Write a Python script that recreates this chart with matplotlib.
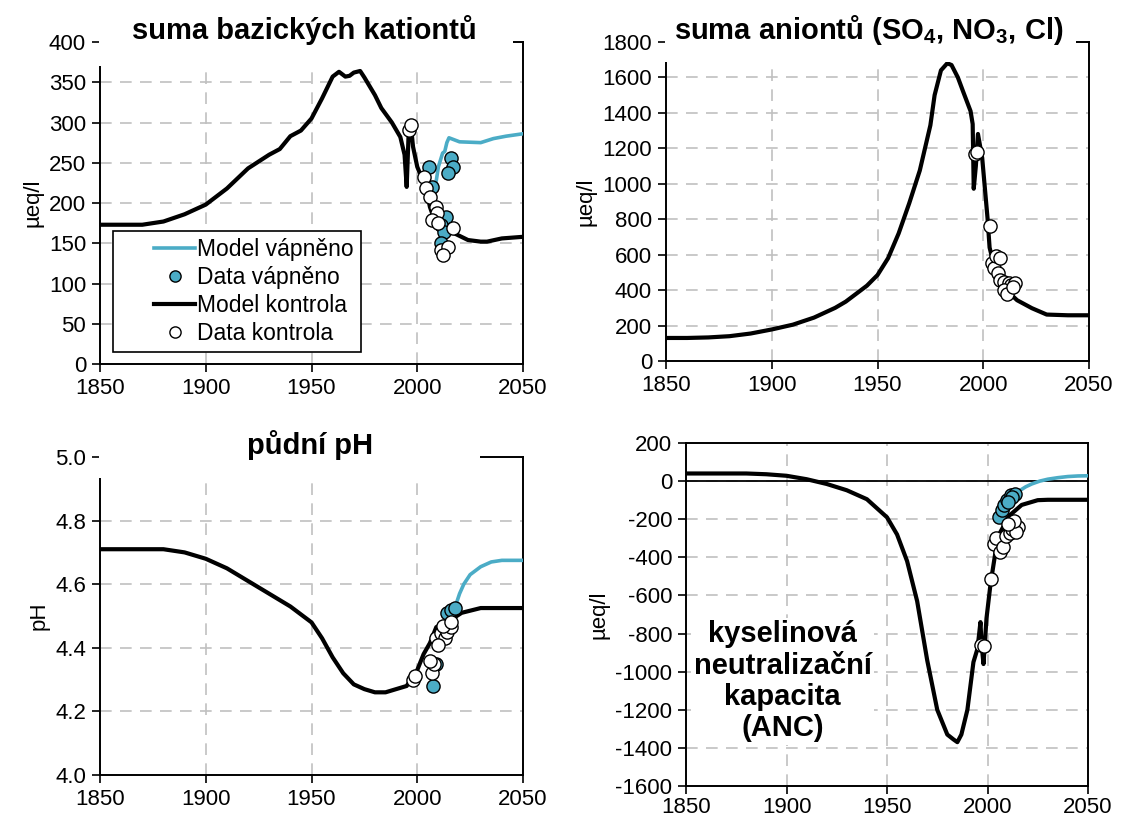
import matplotlib
matplotlib.use("Agg")
import matplotlib.pyplot as plt
from matplotlib.patches import Rectangle
from matplotlib.lines import Line2D
from matplotlib.legend_handler import HandlerLine2D
import numpy as np

plt.rcParams['font.family'] = ['Liberation Sans', 'DejaVu Sans']
plt.rcParams['mathtext.fontset'] = 'custom'
plt.rcParams['mathtext.rm'] = 'Liberation Sans'
plt.rcParams['mathtext.bf'] = 'Liberation Sans:bold'

W, H = 1121, 817
CYAN = "#4bacc6"
GRID = "#c0c0c0"

# --- suma bazických kationtů (µeq/l) ---
bc_ctrl_yr = [1850, 1860, 1870, 1875, 1880, 1890, 1900, 1910, 1920, 1930, 1935, 1940, 1945, 1950,
              1955, 1960, 1963, 1966, 1968, 1970, 1973, 1975, 1980, 1983, 1988, 1992, 1994, 1995,
              1996, 1997, 1998, 2000, 2002, 2004, 2006, 2008, 2010, 2013, 2017, 2024, 2030, 2033,
              2040, 2050]
bc_ctrl = [173, 173, 173, 175, 177, 186, 198, 218, 243, 260, 267, 283, 290, 305,
           330, 357, 363, 357, 358, 362, 364, 356, 334, 318, 300, 282, 260, 220,
           292, 296, 270, 245, 232, 220, 195, 180, 170, 166, 163, 154, 152, 152,
           156, 158]
bc_lime_yr = [2007, 2009, 2010, 2012, 2013, 2014, 2015, 2017, 2020, 2030, 2036, 2042, 2050]
bc_lime = [205, 228, 245, 262, 264, 275, 281, 279, 276, 275, 280, 283, 286]
bc_dlime_yr = [2005.5, 2007, 2013.5, 2011, 2012.5, 2016, 2017, 2014.5, 2011]
bc_dlime = [245, 220, 183, 173, 164, 256, 245, 237, 150]
bc_dctrl_yr = [1996, 1997, 2003, 2004, 2006, 2009, 2009.5, 2007, 2010, 2017, 2011, 2014.5, 2012]
bc_dctrl = [291, 297, 232, 219, 208, 195, 188, 179, 175, 169, 142, 145, 135]

# --- suma aniontů (µeq/l) ---
an_ctrl_yr = [1850, 1860, 1870, 1880, 1890, 1900, 1910, 1920, 1930, 1935, 1940, 1945, 1950, 1955,
              1960, 1965, 1970, 1975, 1977, 1980, 1983, 1985, 1988, 1990.5, 1994, 1995, 1995.5,
              1996.5, 1997.5, 1999.5, 2002, 2003, 2006.5, 2011, 2016, 2023, 2030, 2040, 2050]
an_ctrl = [130, 130, 133, 140, 155, 178, 205, 245, 300, 335, 380, 425, 485, 580,
           720, 890, 1075, 1330, 1500, 1640, 1680, 1670, 1600, 1520, 1410, 1337, 972,
           1100, 1281, 1146, 809, 640, 472, 399, 343, 298, 262, 258, 258]
an_dctrl_yr = [1996, 1997, 2003, 2004, 2005, 2006, 2008, 2007, 2008, 2010, 2012, 2013, 2015,
               2010, 2011, 2014]
an_dctrl = [1168, 1178, 764, 555, 522, 590, 584, 494, 455, 444, 438, 427, 438, 399, 378, 415]

# --- půdní pH ---
ph_ctrl_yr = [1850, 1870, 1880, 1890, 1900, 1910, 1920, 1930, 1940, 1950, 1955, 1960, 1965, 1970,
              1975, 1980, 1985, 1990, 1995, 1998, 2000, 2003, 2006, 2009, 2014, 2021, 2030, 2035,
              2050]
ph_ctrl = [4.71, 4.71, 4.71, 4.70, 4.68, 4.65, 4.61, 4.57, 4.53, 4.48, 4.43, 4.37, 4.32, 4.285,
           4.27, 4.26, 4.26, 4.27, 4.28, 4.31, 4.33, 4.38, 4.415, 4.465, 4.48, 4.51, 4.525, 4.525,
           4.525]
ph_lime_yr = [2013, 2016, 2018, 2020, 2022, 2025, 2030, 2035, 2040, 2050]
ph_lime = [4.48, 4.50, 4.53, 4.57, 4.60, 4.63, 4.655, 4.67, 4.675, 4.675]
ph_dlime_yr = [2007.5, 2009, 2014, 2016, 2018]
ph_dlime = [4.28, 4.35, 4.51, 4.52, 4.525]
ph_dctrl_yr = [1998, 1999, 2007, 2008, 2006, 2009, 2011, 2013, 2014, 2016, 2012, 2010, 2016]
ph_dctrl = [4.30, 4.31, 4.32, 4.35, 4.36, 4.43, 4.445, 4.43, 4.45, 4.465, 4.47, 4.41, 4.48]

# --- ANC (µeq/l) ---
anc_ctrl_yr = [1850, 1870, 1880, 1890, 1900, 1910, 1920, 1930, 1940, 1950, 1955, 1960, 1965, 1970,
               1975, 1980, 1983, 1985, 1987, 1990, 1993, 1995, 1996.5, 1997, 1998, 1999.5, 2001.5,
               2004, 2006, 2011, 2017, 2025, 2030, 2050]
anc_ctrl = [40, 40, 40, 36, 28, 10, -15, -48, -95, -190, -280, -420, -630, -940,
            -1200, -1330, -1355, -1370, -1330, -1200, -950, -880, -740, -850, -960, -720, -540,
            -370, -275, -180, -125, -100, -98, -98]
anc_lime_yr = [2012, 2014, 2016, 2019, 2022, 2026, 2030, 2035, 2040, 2045, 2050]
anc_lime = [-75, -65, -50, -30, -15, 0, 10, 18, 24, 27, 28]
anc_dlime_yr = [2005.5, 2007, 2008, 2009.5, 2011.5, 2013.5, 2012, 2010]
anc_dlime = [-190, -150, -125, -98, -73, -67, -85, -110]
anc_dctrl_yr = [2001.5, 1997, 1998.5, 2003, 2004, 2006, 2007.5, 2009, 2011, 2012, 2015, 2014,
                2013, 2010]
anc_dctrl = [-515, -860, -865, -330, -300, -370, -345, -290, -270, -250, -240, -265, -210, -225]


def px_axes(fig, x0, x1, y0, y1):
    # pixel box (top-left origin) -> figure fraction axes
    return fig.add_axes([x0 / W, 1 - y1 / H, (x1 - x0) / W, (y1 - y0) / H])


def style(ax, ylim, yticks, yfmt):
    ax.set_xlim(1850, 2050)
    ax.set_xticks([1850, 1900, 1950, 2000, 2050])
    ax.set_ylim(*ylim)
    ax.set_yticks(yticks)
    ax.set_yticklabels([yfmt.format(v) for v in yticks])
    ax.grid(True, color=GRID, linestyle=(0, (7, 5)), linewidth=1.2)
    ax.set_axisbelow(True)
    ax.tick_params(direction="out", length=6, width=1.2, labelsize=16, pad=4)
    for s in ax.spines.values():
        s.set_linewidth(1.4)
        s.set_color("black")


def title_box(fig, x0, x1, y0, y1):
    fig.add_artist(Rectangle((x0 / W, 1 - y1 / H), (x1 - x0) / W, (y1 - y0) / H,
                             transform=fig.transFigure, facecolor="white",
                             edgecolor="none", zorder=5))


def series(ax, cy, cv, ly, lv, dly, dlv, dcy, dcv):
    if ly is not None:
        ax.plot(ly, lv, color=CYAN, lw=2.6, zorder=3, label="Model vápněno")
    if dly is not None:
        ax.plot(dly, dlv, "o", ms=9.5, mfc=CYAN, mec="black", mew=1, zorder=4,
                label="Data vápněno")
    ax.plot(cy, cv, color="black", lw=3, zorder=3, label="Model kontrola")
    ax.plot(dcy, dcv, "o", ms=9.5, mfc="white", mec="black", mew=1, zorder=5,
            label="Data kontrola")


fig = plt.figure(figsize=(W / 100, H / 100), dpi=100)

# top left
ax1 = px_axes(fig, 100, 523, 42, 364)
series(ax1, bc_ctrl_yr, bc_ctrl, bc_lime_yr, bc_lime, bc_dlime_yr, bc_dlime,
       bc_dctrl_yr, bc_dctrl)
style(ax1, (0, 400), range(0, 401, 50), "{:d}")
ax1.set_ylabel("µeq/l", fontsize=16, labelpad=4)
leg = ax1.legend(loc="lower left", bbox_to_anchor=(0.03, 0.037), fontsize=16.5,
                 frameon=True, fancybox=False, edgecolor="black", framealpha=1,
                 handlelength=3.3, handletextpad=0.1, labelspacing=0.22,
                 borderpad=0.3, borderaxespad=0, markerscale=0.85,
                 handler_map={Line2D: HandlerLine2D(xpad=1.5)})
leg.get_frame().set_linewidth(1.2)
title_box(fig, 99, 513, 0, 66)
fig.text(304 / W, 1 - 30 / H, "suma bazických kationtů", ha="center", va="center",
         fontsize=21, fontweight="bold", zorder=6)

# top right
ax2 = px_axes(fig, 666, 1089, 42, 361)
series(ax2, an_ctrl_yr, an_ctrl, None, None, None, None, an_dctrl_yr, an_dctrl)
style(ax2, (0, 1800), range(0, 1801, 200), "{:d}")
ax2.set_ylabel("µeq/l", fontsize=16, labelpad=4)
title_box(fig, 665, 1076, 0, 62)
fig.text(869 / W, 1 - 30 / H, r"suma aniontů (SO$_\mathbf{4}$, NO$_\mathbf{3}$, Cl)",
         ha="center", va="center", fontsize=21, fontweight="bold", zorder=6)

# bottom left
ax3 = px_axes(fig, 100, 523, 457, 775)
series(ax3, ph_ctrl_yr, ph_ctrl, ph_lime_yr, ph_lime, ph_dlime_yr, ph_dlime,
       ph_dctrl_yr, ph_dctrl)
style(ax3, (4.0, 5.0), np.round(np.arange(4.0, 5.01, 0.2), 1), "{:.1f}")
ax3.set_ylabel("pH", fontsize=16, labelpad=4)
title_box(fig, 99, 480, 418, 478)
fig.text(310 / W, 1 - 445 / H, "půdní pH", ha="center", va="center",
         fontsize=21, fontweight="bold", zorder=6)

# bottom right
ax4 = px_axes(fig, 686, 1088, 443, 786)
series(ax4, anc_ctrl_yr, anc_ctrl, anc_lime_yr, anc_lime, anc_dlime_yr, anc_dlime,
       anc_dctrl_yr, anc_dctrl)
style(ax4, (-1600, 200), range(-1600, 201, 200), "{:d}")
ax4.tick_params(axis="x", pad=2)
ax4.axhline(0, color="black", lw=1.3, zorder=2.6)
ax4.set_ylabel("µeq/l", fontsize=16, labelpad=4)
ax4.text(0.24, 0.306, "kyselinová\nneutralizační\nkapacita\n(ANC)", transform=ax4.transAxes,
         ha="center", va="center", fontsize=21, fontweight="bold", linespacing=1.14,
         zorder=6, bbox=dict(facecolor="white", edgecolor="none", pad=2))

fig.savefig("out.png", dpi=100)
